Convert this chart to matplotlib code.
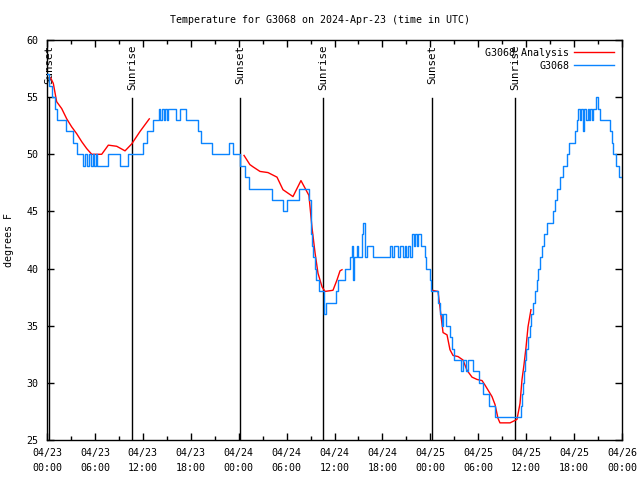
import matplotlib
matplotlib.use("Agg")
import matplotlib.pyplot as plt
from matplotlib.ticker import MultipleLocator, FuncFormatter

# horas desde 04/23 00:00 UTC
obs_h = [0.0, 0.3, 0.6, 1.0, 1.3, 2.4, 3.2, 3.7, 4.5, 4.7, 5.0, 5.2, 5.5, 5.7, 5.9, 6.1, 6.2,
         7.6, 9.1, 10.1, 12.0, 12.5, 13.3, 14.0, 14.2, 14.4, 14.6, 14.8, 15.0, 15.2, 16.2, 16.6,
         17.4, 18.9, 19.3, 20.6, 22.8, 23.3,
         24.2, 24.8, 25.3, 28.2, 29.6, 30.1, 31.6, 32.8, 33.0, 33.1, 33.2, 33.35, 33.5, 33.7,
         34.0, 34.65, 34.9, 36.2, 36.4, 37.3, 37.9, 38.2, 38.3, 38.4, 38.8, 38.9, 39.4, 39.6,
         39.8, 40.1, 40.3, 40.8, 43.0, 43.2, 43.4, 44.0, 44.2, 44.6, 44.8, 45.0, 45.2, 45.4,
         45.7, 45.9, 46.1, 46.3, 46.4, 46.8, 47.3, 47.5, 47.9, 48.1,
         48.9, 49.2, 49.4, 49.6, 50.0, 50.5, 50.7, 51.0, 51.9, 52.1, 52.5, 52.7, 53.4, 54.1,
         54.6, 55.3, 56.1, 59.3, 59.44, 59.6, 59.73, 59.85, 60.04, 60.23, 60.42, 60.6, 60.86,
         61.1, 61.3, 61.52, 61.73, 61.98, 62.23, 62.57, 63.4, 63.6, 63.86, 64.24, 64.65, 65.08,
         65.4, 66.1, 66.36, 66.53, 66.75, 66.9, 67.1, 67.3, 67.5, 67.7, 67.9, 68.0, 68.2, 68.4,
         68.8, 69.0, 69.2, 70.5, 70.7, 70.9, 71.3, 71.6, 72.0]
obs_t = [57, 56, 55, 54, 53, 52, 51, 50, 49, 50, 49, 50, 49, 50, 49, 50, 49,
         50, 49, 50, 51, 52, 53, 54, 53, 54, 53, 54, 53, 54, 53, 54,
         53, 52, 51, 50, 51, 50,
         49, 48, 47, 46, 45, 46, 47, 46, 44, 43, 42, 41, 40, 39,
         38, 36, 37, 38, 39, 40, 41, 42, 39, 41, 42, 41, 43, 44,
         41, 42, 42, 41, 42, 41, 42, 41, 42, 41, 42, 41, 42, 41,
         43, 42, 43, 42, 43, 42, 41, 40, 39, 38,
         37, 36, 35, 36, 35, 34, 33, 32, 31, 32, 31, 32, 31, 30,
         29, 28, 27, 28, 29, 30, 31, 32, 33, 34, 35, 36, 37,
         38, 39, 40, 41, 42, 43, 44, 45, 46, 47, 48, 49, 50,
         51, 52, 53, 54, 53, 54, 52, 54, 53, 54, 53, 54, 53, 54,
         55, 54, 53, 52, 51, 50, 49, 48, 48]

# analise (tres trechos)
ana1_h = [0.45, 0.79, 1.21, 1.84, 2.47, 3.09, 3.72, 4.35, 4.97, 5.6, 6.85, 7.68, 8.73, 9.77, 10.6, 11.65, 12.81]
ana1_t = [56.7, 56.2, 54.6, 54.0, 53.1, 52.4, 51.8, 51.1, 50.5, 50.0, 50.0, 50.8, 50.7, 50.3, 50.9, 52.0, 53.1]
ana2_h = [24.67, 25.4, 25.8, 26.67, 27.67, 28.8, 29.55, 30.8, 31.8, 32.8, 33.18, 33.56, 33.93, 34.44,
          34.81, 35.81, 36.31, 36.69, 36.94]
ana2_t = [49.9, 49.1, 48.9, 48.5, 48.4, 48.0, 46.9, 46.3, 47.7, 46.4, 43.6, 41.4, 39.6, 38.4,
          38.0, 38.1, 39.0, 39.8, 39.9]
ana3_h = [48.21, 48.96, 49.21, 49.59, 50.09, 50.46, 50.84, 51.47, 52.09, 52.59, 53.22, 53.84, 54.47,
          54.85, 55.72, 56.1, 56.47, 56.72, 57.98, 58.85, 59.23, 59.48, 59.73, 59.98, 60.23, 60.6]
ana3_t = [38.1, 38.0, 36.6, 34.4, 34.2, 32.9, 32.4, 32.3, 32.0, 31.1, 30.5, 30.3, 30.2,
          29.8, 28.8, 28.1, 26.9, 26.5, 26.5, 26.8, 28.2, 30.3, 31.6, 33.1, 34.9, 36.4]

sol_h = [0.25, 10.64, 24.17, 34.56, 48.21, 58.6]
sol_txt = ["Sunset", "Sunrise", "Sunset", "Sunrise", "Sunset", "Sunrise"]

dias = ["04/23", "04/24", "04/25", "04/26"]

VERMELHO = "#ff0000"
AZUL = "#0a84ff"
FONTE = "DejaVu Sans Mono"
plt.rcParams['font.family'] = FONTE
plt.rcParams['font.size'] = 7

fig = plt.figure(figsize=(6.4, 4.8), dpi=100)
ax = fig.add_axes([47 / 640, 40 / 480, 575 / 640, 400 / 480])

# linhas do sol
for h, txt in zip(sol_h, sol_txt):
    ax.plot([h, h], [25, 54.9], color="black", lw=1.0, zorder=1)
    ax.text(h, 59.6, txt, rotation=90, ha="center", va="top", fontsize=7.8, zorder=2)

ax.plot(ana1_h, ana1_t, color=VERMELHO, lw=1.0, label="G3068 Analysis", zorder=3)
ax.plot(ana2_h, ana2_t, color=VERMELHO, lw=1.0, zorder=3)
ax.plot(ana3_h, ana3_t, color=VERMELHO, lw=1.0, zorder=3)
ax.plot(obs_h, obs_t, color=AZUL, lw=1.0, drawstyle="steps-post", label="G3068", zorder=4)

ax.set_xlim(0, 72)
ax.set_ylim(25, 60)

def rotulo_x(v, pos):
    v = int(round(v))
    return f"{dias[v // 24]}\n{v % 24:02d}:00"

ax.xaxis.set_major_locator(MultipleLocator(6))
ax.xaxis.set_minor_locator(MultipleLocator(3))
ax.xaxis.set_major_formatter(FuncFormatter(rotulo_x))
ax.yaxis.set_major_locator(MultipleLocator(5))
ax.tick_params(axis="both", which="both", direction="in", top=True, right=True,
               labelsize=7.2, width=1, colors="black")
ax.tick_params(axis="both", which="major", length=5, pad=6)
ax.tick_params(axis="both", which="minor", length=3)
for s in ax.spines.values():
    s.set_linewidth(1.0)

ax.set_ylabel("degrees F", fontsize=7.2, labelpad=9)
fig.text(0.5, 1 - 20 / 480, "Temperature for G3068 on 2024-Apr-23 (time in UTC)",
         ha="center", va="center", fontsize=7.2)

leg = ax.legend(loc="upper right", frameon=False, fontsize=7.2, markerfirst=False,
                handlelength=4, borderaxespad=0.4, labelspacing=0.3, handletextpad=0.5)
for t in leg.get_texts():
    t.set_ha("right")
leg._legend_box.align = "right"

fig.canvas.draw()
for lbl in ax.get_xticklabels():
    lbl.set_linespacing(1.6)

fig.savefig("out.png", dpi=100)
